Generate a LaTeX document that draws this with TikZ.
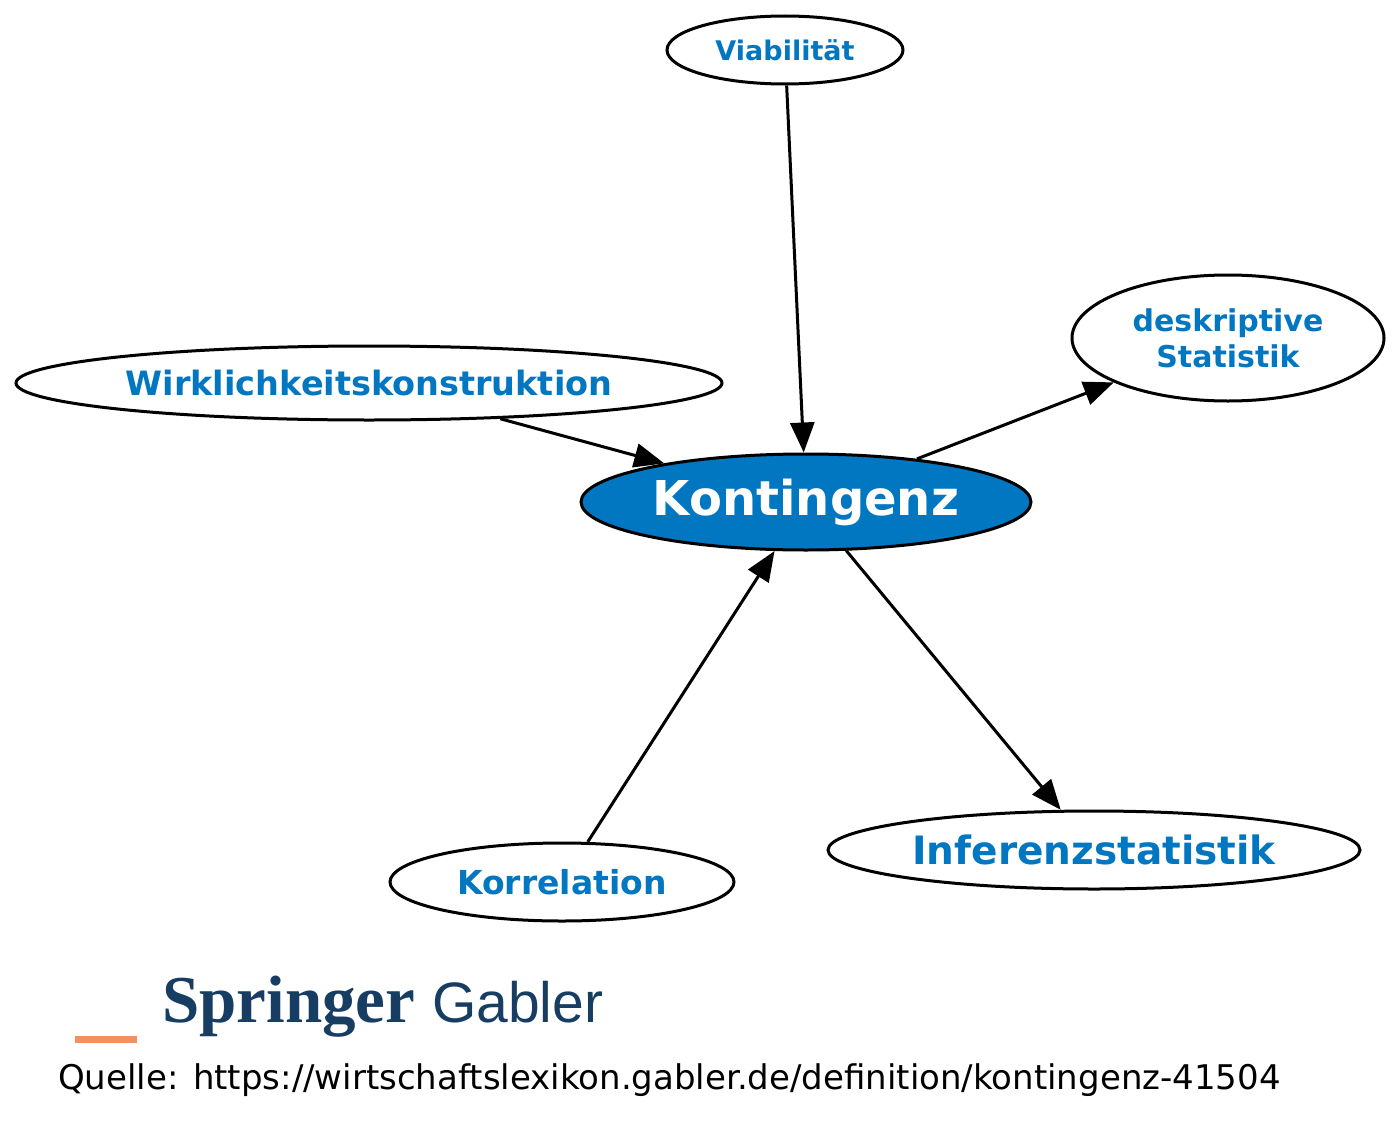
\documentclass[tikz,border=0pt]{standalone}
\usepackage{fontspec}
\setmainfont{DejaVu Sans}
\newfontfamily\logoserif{Liberation Serif}
\newfontfamily\logosans{Liberation Sans}
\usetikzlibrary{shapes.geometric,arrows.meta}
\definecolor{kblue}{HTML}{0077C0}
\definecolor{sblue}{HTML}{173D63}
\definecolor{sorange}{HTML}{F39061}
\begin{document}
\begin{tikzpicture}[x=1pt,y=-1pt,
  el/.style={ellipse,draw=black,line width=3pt,inner sep=0pt,fill=white,text=kblue,font=\bfseries,align=center},
  ar/.style={line width=3pt,-{Triangle[length=30pt,width=24pt]}}]
\useasboundingbox (0,0) rectangle (1400,1140);
\node[el,minimum width=236,minimum height=68,font=\bfseries\fontsize{27}{32}\selectfont] (v) at (785,50) {Viabilität};
\node[el,minimum width=312,minimum height=126,font=\bfseries\fontsize{30}{36}\selectfont] (d) at (1228,338) {deskriptive\\Statistik};
\node[el,minimum width=706,minimum height=74,font=\bfseries\fontsize{33.5}{38}\selectfont] (w) at (369,383) {Wirklichkeitskonstruktion};
\node[el,minimum width=450,minimum height=96,fill=kblue,text=white,font=\bfseries\fontsize{48}{54}\selectfont] (k) at (806,502) {Kontingenz};
\node[el,minimum width=344,minimum height=78,font=\bfseries\fontsize{33}{38}\selectfont] (c) at (562,882) {Korrelation};
\node[el,minimum width=532,minimum height=78,font=\bfseries\fontsize{39}{44}\selectfont] (i) at (1094,850) {Inferenzstatistik};
\draw[ar] (v) -- (k);
\draw[ar] (w) -- (k);
\draw[ar] (k) -- (d);
\draw[ar] (c) -- (k);
\draw[ar] (k) -- (i);
\fill[sorange] (75,1036) rectangle (137,1043) coordinate (bar);
\node[anchor=base west,text=sblue,inner sep=0pt,font=\logoserif\bfseries\fontsize{67}{70}\selectfont] (sp) at (162,1022) {Springer};
\node[anchor=base west,text=sblue,inner sep=0pt,font=\logosans\fontsize{57}{60}\selectfont] (gb) at (432,1022) {Gabler};
\node[anchor=base west,inner sep=0pt,font=\fontsize{34}{40}\selectfont] (q) at (58,1089) {Quelle: https://wirtschaftslexikon.gabler.de/definition/kontingenz-41504};
\end{tikzpicture}
\end{document}
